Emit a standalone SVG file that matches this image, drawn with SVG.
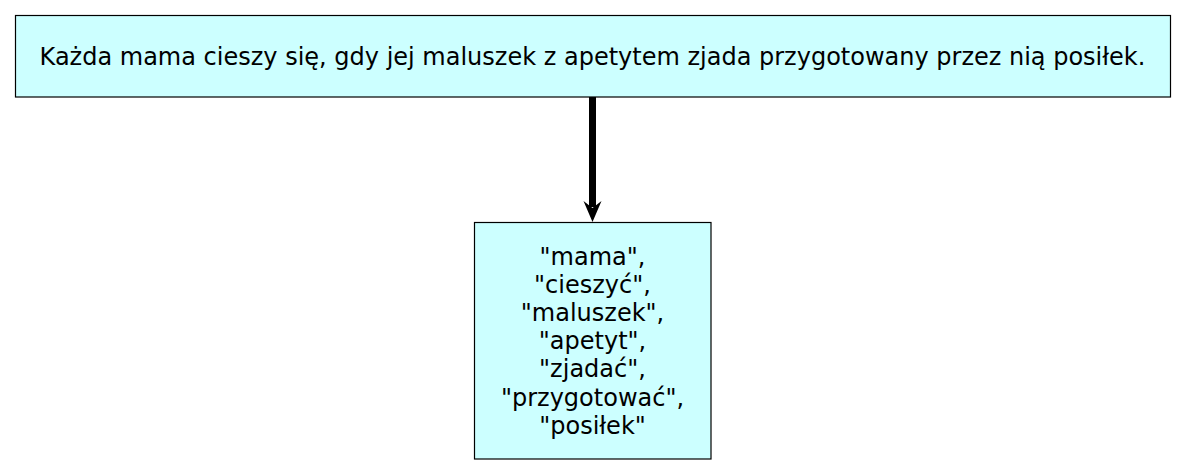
<svg xmlns="http://www.w3.org/2000/svg" width="1185" height="474" viewBox="0 0 1185 474">
<style>
.box{fill:#ccffff;stroke:#000;stroke-width:1.2}
.t{font-family:"DejaVu Sans",sans-serif;font-size:24px;fill:#000;text-anchor:middle}
.edge{stroke:#000;stroke-width:7;fill:none}
.head{fill:#000}
</style>
<rect width="1185" height="474" fill="#fff"/>
<g id="connectors">
<line class="edge" x1="592.5" y1="97" x2="592.5" y2="207"/>
<path class="head" d="M583.5,201 L592.5,208 L601.5,201 L592.5,222 Z"/>
</g>
<g id="node-sentence">
<rect class="box" x="15.5" y="15.5" width="1155" height="81.5"/>
<text class="t" x="592.5" y="64.5">Każda mama cieszy się, gdy jej maluszek z apetytem zjada przygotowany przez nią posiłek.</text>
</g>
<g id="node-words">
<rect class="box" x="474.5" y="222.5" width="236.5" height="236.5"/>
<text class="t" x="592.5" y="264.5">"mama",</text>
<text class="t" x="592.5" y="292.7">"cieszyć",</text>
<text class="t" x="592.5" y="320.9">"maluszek",</text>
<text class="t" x="592.5" y="349.1">"apetyt",</text>
<text class="t" x="592.5" y="377.3">"zjadać",</text>
<text class="t" x="592.5" y="405.5">"przygotować",</text>
<text class="t" x="592.5" y="433.7">"posiłek"</text>
</g>
</svg>
